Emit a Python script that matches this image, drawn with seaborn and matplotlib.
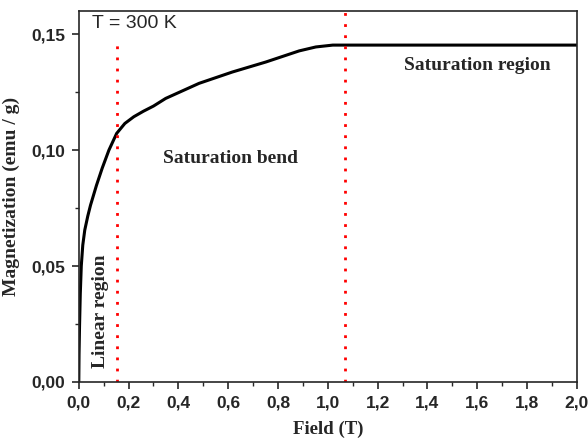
import matplotlib
matplotlib.use("Agg")
import matplotlib.pyplot as plt
import seaborn as sns
import pandas as pd
from matplotlib.ticker import MultipleLocator, FuncFormatter

# Magnetization curve at 300 K
field_T = [0.0, 0.001, 0.003, 0.006, 0.010, 0.016, 0.024, 0.036, 0.047, 0.071,
           0.094, 0.121, 0.152, 0.185, 0.221, 0.260, 0.300, 0.349, 0.483, 0.617,
           0.751, 0.885, 0.952, 1.020, 1.070, 2.000]
magnet = [0.0, 0.012, 0.024, 0.038, 0.050, 0.059, 0.0655, 0.0715, 0.0762, 0.0848,
          0.0922, 0.100, 0.1072, 0.1115, 0.1144, 0.1168, 0.1190, 0.1223, 0.1288, 0.1337,
          0.1380, 0.1428, 0.1445, 0.1453, 0.1453, 0.1453]

# region boundaries (T)
boundary_lin = 0.153
boundary_sat = 1.07

df = pd.DataFrame({"Field": field_T, "M": magnet})

sns.set_style("ticks")
fig = plt.figure(figsize=(5.88, 4.41), dpi=100)
ax = fig.add_axes([0.134, 0.134, 0.847, 0.841])

sns.lineplot(data=df, x="Field", y="M", ax=ax, color="black", lw=2.2,
             solid_joinstyle="round", solid_capstyle="round")

ax.plot([boundary_lin, boundary_lin], [0, 0.1475], color="red", lw=2,
        linestyle=(0, (1, 3)))
ax.plot([boundary_sat, boundary_sat], [0, 0.16], color="red", lw=2,
        linestyle=(0, (1, 3)))

ax.set_xlim(0, 2.0)
ax.set_ylim(0, 0.16)
ax.xaxis.set_major_locator(MultipleLocator(0.2))
ax.xaxis.set_minor_locator(MultipleLocator(0.1))
ax.yaxis.set_major_locator(MultipleLocator(0.05))
ax.yaxis.set_minor_locator(MultipleLocator(0.025))
ax.xaxis.set_major_formatter(FuncFormatter(lambda v, p: f"{v:.1f}".replace(".", ",")))
ax.yaxis.set_major_formatter(FuncFormatter(lambda v, p: f"{v:.2f}".replace(".", ",")))
ax.tick_params(which="major", direction="out", length=5, width=1.2, pad=5)
ax.tick_params(which="minor", direction="out", length=3, width=1.0)
for lab in ax.get_xticklabels() + ax.get_yticklabels():
    lab.set_fontfamily("Liberation Sans")
    lab.set_fontweight("bold")
    lab.set_fontsize(12.5)
for s in ax.spines.values():
    s.set_linewidth(1.2)
    s.set_visible(True)

ax.set_xlabel("Field (T)", family="Liberation Serif", weight="bold", fontsize=13.5, labelpad=7)
ax.set_ylabel("Magnetization (emu / g)", family="Liberation Serif", weight="bold", fontsize=14, labelpad=8)

ax.text(0.055, 0.1545, "T = 300 K", family="Liberation Sans", fontsize=14,
        va="center", ha="left")
ax.text(0.61, 0.0965, "Saturation bend", family="Liberation Serif", weight="bold",
        fontsize=14, va="center", ha="center")
ax.text(1.60, 0.1366, "Saturation region", family="Liberation Serif", weight="bold",
        fontsize=14, va="center", ha="center")
ax.text(0.088, 0.0305, "Linear region", family="Liberation Serif", weight="bold",
        fontsize=14, va="center", ha="center", rotation=90)

fig.savefig("out.png", dpi=100)
